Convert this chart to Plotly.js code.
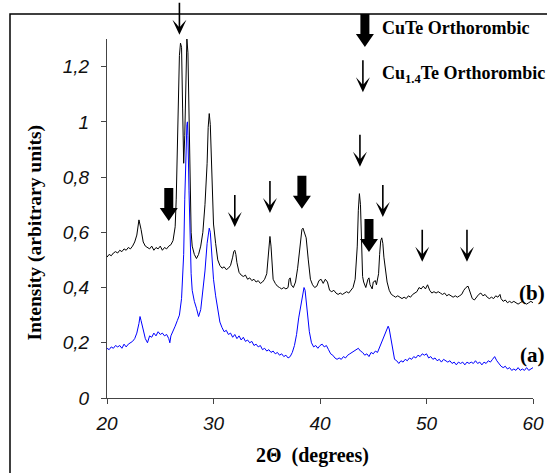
<!DOCTYPE html>
<html><head><meta charset="utf-8">
<script src="https://cdn.plot.ly/plotly-3.0.1.min.js"></script>
<style>html,body{margin:0;padding:0;background:#fff;}#chart{width:547px;height:473px;}</style>
</head><body><div id="chart"></div>
<script>
// Sample (b) – black curve
var xB = [20.0,20.2,20.4,20.6,20.8,21.0,21.2,21.4,21.6,21.8,22.0,22.2,22.4,22.6,22.8,23.0,23.2,23.4,23.6,23.8,24.0,24.2,24.4,24.6,24.8,25.0,25.2,25.4,25.6,25.8,26.0,26.2,26.4,26.5,26.6,26.7,26.8,26.9,27.0,27.1,27.2,27.3,27.4,27.5,27.6,27.7,27.8,27.9,28.0,28.2,28.4,28.6,28.8,29.0,29.2,29.4,29.5,29.6,29.7,29.8,29.9,30.0,30.2,30.4,30.6,30.8,31.0,31.2,31.4,31.6,31.8,31.9,32.0,32.1,32.2,32.4,32.6,32.8,33.0,33.2,33.4,33.6,33.8,34.0,34.2,34.4,34.6,34.8,35.0,35.1,35.2,35.3,35.4,35.5,35.6,35.8,36.0,36.2,36.4,36.6,36.8,37.0,37.1,37.2,37.3,37.5,37.7,37.9,38.1,38.3,38.4,38.5,38.7,38.9,39.1,39.3,39.5,39.7,39.9,40.1,40.3,40.5,40.7,40.9,41.1,41.3,41.5,41.7,41.9,42.1,42.3,42.5,42.7,42.9,43.1,43.3,43.5,43.6,43.7,43.8,43.9,44.0,44.1,44.3,44.5,44.6,44.7,44.9,45.0,45.2,45.3,45.5,45.6,45.7,45.8,45.9,46.0,46.1,46.3,46.5,46.7,46.9,47.1,47.3,47.5,47.7,47.9,48.1,48.3,48.5,48.7,48.9,49.1,49.3,49.5,49.7,49.9,50.1,50.3,50.5,50.7,50.9,51.1,51.3,51.5,51.7,51.9,52.1,52.3,52.5,52.7,52.9,53.1,53.3,53.5,53.7,53.9,54.1,54.3,54.5,54.7,54.9,55.1,55.3,55.5,55.7,55.9,56.1,56.3,56.5,56.7,56.9,57.0,57.2,57.4,57.6,57.8,58.0,58.2,58.4,58.6,58.8,59.0,59.2,59.4,59.6,59.8,60.0];
var yB = [0.51,0.52,0.515,0.525,0.53,0.525,0.535,0.53,0.54,0.535,0.545,0.54,0.55,0.565,0.59,0.645,0.61,0.565,0.55,0.545,0.54,0.55,0.535,0.545,0.54,0.55,0.535,0.545,0.54,0.55,0.555,0.57,0.62,0.72,0.9,1.12,1.24,1.285,1.27,1.05,0.85,0.95,1.2,1.30,1.25,0.98,0.72,0.6,0.55,0.52,0.505,0.52,0.55,0.6,0.7,0.85,0.98,1.03,0.99,0.85,0.72,0.63,0.56,0.5,0.48,0.47,0.475,0.465,0.47,0.48,0.51,0.53,0.535,0.52,0.49,0.455,0.445,0.44,0.445,0.43,0.435,0.425,0.43,0.42,0.425,0.415,0.42,0.43,0.45,0.5,0.56,0.585,0.55,0.47,0.43,0.415,0.405,0.40,0.395,0.40,0.395,0.40,0.43,0.435,0.41,0.40,0.42,0.47,0.55,0.61,0.615,0.6,0.58,0.5,0.43,0.41,0.40,0.405,0.425,0.43,0.415,0.43,0.42,0.39,0.385,0.39,0.38,0.375,0.38,0.375,0.38,0.385,0.38,0.39,0.40,0.43,0.55,0.68,0.74,0.70,0.52,0.44,0.42,0.40,0.43,0.435,0.41,0.395,0.42,0.425,0.41,0.45,0.52,0.57,0.58,0.56,0.51,0.48,0.42,0.39,0.375,0.37,0.365,0.37,0.365,0.36,0.365,0.36,0.37,0.365,0.375,0.38,0.385,0.40,0.395,0.405,0.395,0.41,0.39,0.38,0.385,0.38,0.385,0.38,0.375,0.38,0.37,0.375,0.37,0.365,0.37,0.365,0.37,0.375,0.39,0.40,0.405,0.38,0.36,0.355,0.365,0.375,0.38,0.37,0.375,0.365,0.36,0.365,0.36,0.37,0.365,0.375,0.36,0.35,0.355,0.345,0.35,0.345,0.35,0.345,0.34,0.345,0.35,0.345,0.34,0.345,0.35,0.345];

// Sample (a) – blue curve
var xA = [20.0,20.2,20.4,20.6,20.8,21.0,21.2,21.4,21.6,21.8,22.0,22.2,22.4,22.6,22.8,23.0,23.1,23.2,23.4,23.6,23.8,24.0,24.2,24.4,24.6,24.8,25.0,25.2,25.4,25.6,25.8,25.9,26.0,26.2,26.4,26.6,26.8,27.0,27.1,27.2,27.3,27.4,27.5,27.55,27.6,27.7,27.8,27.9,28.0,28.2,28.4,28.6,28.8,29.0,29.2,29.4,29.6,29.7,29.8,30.0,30.2,30.4,30.6,30.8,31.0,31.2,31.4,31.6,31.8,32.0,32.2,32.4,32.6,32.8,33.0,33.2,33.4,33.6,33.8,34.0,34.2,34.4,34.6,34.8,35.0,35.2,35.4,35.6,35.8,36.0,36.2,36.4,36.6,36.8,37.0,37.2,37.4,37.6,37.8,38.0,38.2,38.4,38.5,38.6,38.8,39.0,39.2,39.4,39.6,39.8,40.0,40.2,40.4,40.6,40.8,41.0,41.2,41.4,41.6,41.8,42.0,42.2,42.4,42.6,42.8,43.0,43.2,43.4,43.6,43.8,44.0,44.2,44.4,44.6,44.8,45.0,45.2,45.4,45.6,45.8,46.0,46.2,46.4,46.5,46.6,46.8,47.0,47.2,47.4,47.6,47.8,48.0,48.2,48.4,48.6,48.8,49.0,49.2,49.4,49.6,49.8,50.0,50.2,50.4,50.6,50.8,51.0,51.2,51.4,51.6,51.8,52.0,52.2,52.4,52.6,52.8,53.0,53.2,53.4,53.6,53.8,54.0,54.2,54.4,54.6,54.8,55.0,55.2,55.4,55.6,55.8,56.0,56.2,56.4,56.6,56.8,57.0,57.2,57.4,57.6,57.8,58.0,58.2,58.4,58.6,58.8,59.0,59.2,59.4,59.6,59.8,60.0];
var yA = [0.18,0.175,0.185,0.18,0.19,0.185,0.19,0.18,0.195,0.185,0.195,0.20,0.205,0.215,0.235,0.27,0.295,0.28,0.245,0.215,0.20,0.225,0.22,0.235,0.225,0.24,0.23,0.235,0.225,0.23,0.215,0.20,0.225,0.24,0.26,0.28,0.30,0.36,0.42,0.52,0.72,0.9,0.99,1.0,0.95,0.75,0.55,0.45,0.39,0.35,0.325,0.295,0.32,0.38,0.46,0.56,0.615,0.6,0.55,0.43,0.37,0.32,0.275,0.255,0.24,0.245,0.23,0.235,0.22,0.23,0.215,0.225,0.21,0.22,0.205,0.21,0.20,0.205,0.19,0.195,0.185,0.19,0.175,0.18,0.17,0.175,0.165,0.17,0.16,0.165,0.155,0.16,0.15,0.155,0.145,0.15,0.165,0.19,0.23,0.29,0.34,0.385,0.40,0.39,0.32,0.24,0.20,0.185,0.19,0.18,0.19,0.195,0.185,0.19,0.175,0.16,0.155,0.145,0.14,0.145,0.14,0.15,0.145,0.155,0.16,0.165,0.17,0.175,0.18,0.17,0.165,0.155,0.16,0.15,0.165,0.16,0.17,0.165,0.185,0.20,0.22,0.24,0.26,0.25,0.225,0.18,0.14,0.135,0.125,0.135,0.13,0.14,0.135,0.145,0.14,0.15,0.145,0.155,0.15,0.16,0.155,0.16,0.145,0.15,0.14,0.145,0.135,0.14,0.13,0.14,0.135,0.13,0.135,0.125,0.13,0.12,0.13,0.125,0.13,0.12,0.13,0.125,0.13,0.125,0.135,0.125,0.13,0.12,0.13,0.125,0.135,0.13,0.14,0.15,0.135,0.125,0.115,0.11,0.115,0.105,0.11,0.10,0.105,0.10,0.11,0.10,0.105,0.10,0.11,0.10,0.105,0.11];

// Peak markers: 2θ positions and arrow-tip intensities
var thinArrowAngles = [26.8, 32.0, 35.3, 43.75, 45.9, 49.6, 53.8];
var thinArrowTips   = [1.315, 0.619, 0.670, 0.837, 0.655, 0.493, 0.493];
var thickArrowAngles = [25.8, 38.3, 44.6];
var thickArrowTips   = [0.641, 0.685, 0.529];

var yTickVals = [0, 0.2, 0.4, 0.6, 0.8, 1, 1.2];
var xTickVals = [20, 30, 40, 50, 60];

var X0 = 20, X1 = 60, Y0 = 0, Y1 = 1.30;
function px(v){ return (v - X0) / (X1 - X0); }
function py(v){ return (v - Y0) / (Y1 - Y0); }

var thinPath  = 'M-0.8,32 L0.8,32 L0.8,8 Q3,11 7,15 L0,0 L-7,15 Q-3,11 -0.8,8 Z';
var thickPath = 'M-4.5,33 L4.5,33 L4.5,13 L9,13 L0,0 L-9,13 L-4.5,13 Z';

function arrowShape(xp, yp, path){
  return {type:'path', xref:'paper', yref:'paper', xsizemode:'pixel', ysizemode:'pixel',
          xanchor:xp, yanchor:yp, path:path, fillcolor:'#000', line:{width:0}, layer:'above'};
}

var shapes = [];
// outer frame
shapes.push({type:'rect', xref:'paper', yref:'paper', x0:-0.2277, x1:1.2, y0:-0.4, y1:1.0696,
             line:{color:'#000', width:1.5}, fillcolor:'rgba(0,0,0,0)'});
thinArrowAngles.forEach(function(a,i){ shapes.push(arrowShape(px(a), py(thinArrowTips[i]), thinPath)); });
thickArrowAngles.forEach(function(a,i){ shapes.push(arrowShape(px(a), py(thickArrowTips[i]), thickPath)); });
// legend arrows
shapes.push(arrowShape(0.6054, 0.978, thickPath));
shapes.push(arrowShape(0.6007, 0.852, thinPath));

var SERIF = '"Liberation Serif", "Times New Roman", serif';
function sf(size){ return {family:SERIF, size:size, color:'#000', weight:'bold'}; }

var annotations = [
  {xref:'paper', yref:'paper', x:0.641, y:1.031, xanchor:'left', yanchor:'middle', showarrow:false,
   text:'CuTe Orthorombic', font:sf(18)},
  {xref:'paper', yref:'paper', x:0.641, y:0.900, xanchor:'left', yanchor:'middle', showarrow:false,
   text:'Cu<sub>1.4</sub>Te Orthorombic', font:sf(18)},
  {xref:'paper', yref:'paper', x:0.998, y:0.292, xanchor:'center', yanchor:'middle', showarrow:false,
   text:'(b)', font:sf(21)},
  {xref:'paper', yref:'paper', x:0.998, y:0.120, xanchor:'center', yanchor:'middle', showarrow:false,
   text:'(a)', font:sf(21)},
  {xref:'paper', yref:'paper', x:-0.168, y:0.462, xanchor:'center', yanchor:'middle', showarrow:false,
   textangle:-90, text:'Intensity (arbitrary units)', font:sf(19.5)},
  {xref:'paper', yref:'paper', x:0.482, y:-0.159, xanchor:'center', yanchor:'middle', showarrow:false,
   text:'2\u0398  (degrees)', font:sf(20)}
];

var traces = [
  {x:xB, y:yB, type:'scatter', mode:'lines', line:{color:'#000000', width:1}, name:'(b)', hoverinfo:'skip'},
  {x:xA, y:yA, type:'scatter', mode:'lines', line:{color:'#0000ff', width:1}, name:'(a)', hoverinfo:'skip'}
];

var tickFont = {family:'"Liberation Sans", Arial, sans-serif', size:19, color:'#111', style:'italic'};

var layout = {
  width:547, height:473,
  margin:{l:107, r:14, t:39, b:75, pad:0},
  paper_bgcolor:'#fff', plot_bgcolor:'#fff',
  showlegend:false,
  separators:',.',
  xaxis:{range:[X0, X1], tickvals:xTickVals, ticks:'outside', ticklen:5, tickcolor:'#444',
         showline:true, linecolor:'#444', linewidth:1, showgrid:false, zeroline:false,
         tickfont:tickFont, fixedrange:true, ticklabelstandoff:3},
  yaxis:{range:[Y0, Y1], tickvals:yTickVals, ticks:'outside', ticklen:5, tickcolor:'#444',
         showline:true, linecolor:'#444', linewidth:1, showgrid:false, zeroline:false,
         tickfont:tickFont, fixedrange:true, ticklabelstandoff:8},
  shapes:shapes,
  annotations:annotations
};

Plotly.newPlot('chart', traces, layout, {staticPlot:true, displayModeBar:false});
</script>
</body></html>
